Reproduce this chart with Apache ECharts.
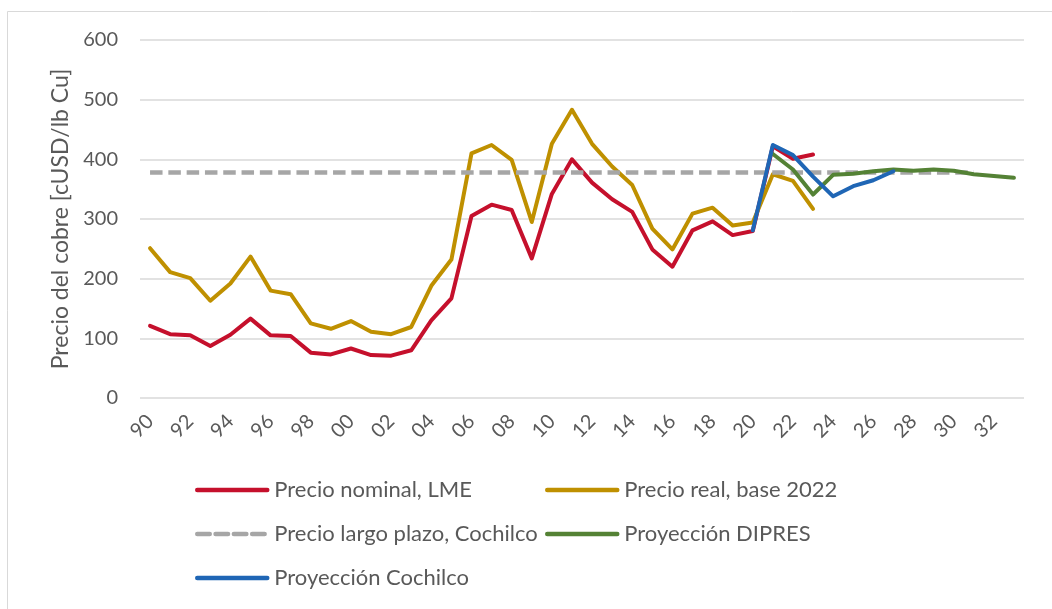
<!DOCTYPE html>
<html>
<head>
<meta charset="utf-8">
<script src="https://cdn.jsdelivr.net/npm/echarts@6/dist/echarts.min.js"></script>
<style>
  html, body { margin: 0; padding: 0; background: #fff; }
  #main { width: 1052px; height: 609px; }
</style>
</head>
<body>
<div id="main"></div>
<script>
// años 1990 - 2033 (etiquetas de dos dígitos)
const years = ['90', '91', '92', '93', '94', '95', '96', '97', '98', '99',
    '00', '01', '02', '03', '04', '05', '06', '07', '08', '09',
    '10', '11', '12', '13', '14', '15', '16', '17', '18', '19',
    '20', '21', '22', '23', '24', '25', '26', '27', '28', '29',
    '30', '31', '32', '33']

// 1990 - 2023
const nominalLME = [121, 107, 105, 87, 106, 133, 105, 104, 76, 73,
    83, 72, 71, 80, 130, 167, 305, 324, 315, 234,
    342, 400, 361, 333, 312, 249, 220, 281, 296, 273,
    280, 422, 401, 408]
// 1990 - 2023
const realBase2022 = [251, 211, 201, 163, 192, 237, 180, 174, 125, 116,
    129, 111, 107, 119, 188, 232, 410, 424, 399, 295,
    426, 483, 426, 388, 357, 284, 249, 309, 319, 289,
    294, 375, 364, 317]
// 1990 - 2031, constante
const largoPlazoValue = 378
const largoPlazoYears = 42
// 2021 - 2033
const proyDipres = [409, 383, 341, 374, 376, 380, 383, 381, 383, 381, 375, 372, 369]
// 2020 - 2027
const proyCochilco = [281, 424, 407, 371, 338, 355, 365, 380]

const yTicks = { min: 0, max: 600, interval: 100 }

// coloca una serie corta en el eje completo (null fuera de su rango)
function place (startLabel, values) {
    const start = years.indexOf(startLabel)
    return years.map((y, i) => {
        const k = i - start
        return (k >= 0 && k < values.length) ? values[k] : null
    })
}

const largoPlazo = place('90', new Array(largoPlazoYears).fill(largoPlazoValue))

const font = 'Lato, "Open Sans", sans-serif'
const textColor = '#595959'

const chart = echarts.init(document.getElementById('main'))

function lineSeries (name, data, color, extra) {
    return Object.assign({
        name: name,
        type: 'line',
        data: data,
        symbol: 'none',
        showSymbol: false,
        connectNulls: false,
        animation: false,
        lineStyle: { color: color, width: 4, cap: 'round', join: 'round' },
        itemStyle: { color: color }
    }, extra || {})
}

function legendAt (name, left, top) {
    return {
        data: [name],
        left: left,
        top: top,
        itemWidth: 70,
        itemHeight: 14,
        itemGap: 0,
        padding: 0,
        // sin el círculo del símbolo, solo la línea
        itemStyle: { opacity: 0 },
        lineStyle: { width: 4.5, cap: 'round' },
        textStyle: { fontFamily: font, fontSize: 22, color: textColor, padding: [0, 0, 0, 2] }
    }
}

const option = {
    backgroundColor: '#fff',
    animation: false,
    graphic: [{
        type: 'rect',
        shape: { x: 7.5, y: 11.5, width: 1100, height: 700 },
        style: { fill: 'none', stroke: '#d9d9d9', lineWidth: 1 },
        silent: true
    }],
    grid: {
        left: 140,
        right: 28,
        top: 40,
        bottom: 211
    },
    legend: [
        legendAt('Precio nominal, LME', 195, 479),
        legendAt('Precio real, base 2022', 545, 479),
        legendAt('Precio largo plazo, Cochilco', 195, 523),
        legendAt('Proyección DIPRES', 545, 523),
        legendAt('Proyección Cochilco', 195, 567)
    ],
    xAxis: {
        type: 'category',
        data: years,
        boundaryGap: true,
        axisLine: { show: false },
        axisTick: { show: false },
        axisLabel: {
            interval: 1,
            rotate: 45,
            margin: 20,
            fontFamily: font,
            fontSize: 20,
            color: textColor
        }
    },
    yAxis: {
        type: 'value',
        min: yTicks.min,
        max: yTicks.max,
        interval: yTicks.interval,
        name: 'Precio del cobre [cUSD/lb Cu]',
        nameLocation: 'middle',
        nameGap: 68,
        nameTextStyle: { fontFamily: font, fontSize: 23, color: textColor },
        axisLine: { show: false },
        axisTick: { show: false },
        axisLabel: {
            margin: 22,
            fontFamily: font,
            fontSize: 20,
            color: textColor
        },
        splitLine: { lineStyle: { color: '#d9d9d9', width: 1.5 } }
    },
    series: [
        lineSeries('Precio nominal, LME', place('90', nominalLME), '#C5102C'),
        lineSeries('Precio real, base 2022', place('90', realBase2022), '#BF9000'),
        lineSeries('Precio largo plazo, Cochilco', largoPlazo, '#A6A6A6', {
            lineStyle: { color: '#A6A6A6', width: 4.5, type: [12.5, 5.8], cap: 'butt' }
        }),
        lineSeries('Proyección DIPRES', place('21', proyDipres), '#548235'),
        lineSeries('Proyección Cochilco', place('20', proyCochilco), '#1F66B5')
    ]
}

chart.setOption(option)
</script>
</body>
</html>
